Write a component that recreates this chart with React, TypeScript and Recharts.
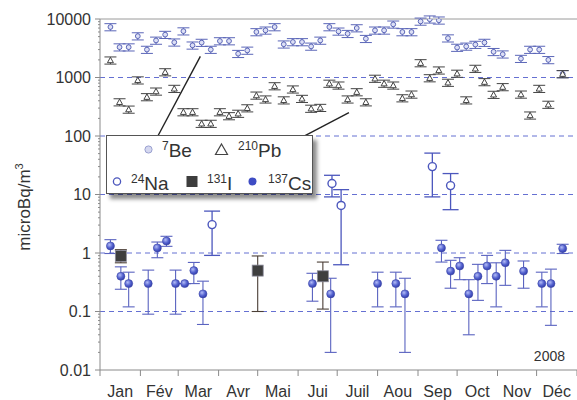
import { ScatterChart, Scatter, XAxis, YAxis, ErrorBar, ReferenceLine } from 'recharts'

// layout
const W = 577
const H = 400
const PLOT_LEFT = 100
const PX_PER_DAY = (W - PLOT_LEFT) / 366

// 2008 axis (leap year), day of year
const monthStarts = [0, 31, 60, 91, 121, 152, 182, 213, 244, 274, 305, 335, 366]
const monthNames = ['Jan', 'Fév', 'Mar', 'Avr', 'Mai', 'Jui', 'Juil', 'Aou', 'Sep', 'Oct', 'Nov', 'Déc']
const majorTicks = [0.01, 0.1, 1, 10, 100, 1000, 10000]
const gridValues = [0.1, 1, 10, 100, 1000]
const minorTicks = majorTicks
  .slice(0, -1)
  .flatMap((d) => [2, 3, 4, 5, 6, 7, 8, 9].map((m) => +(m * d).toPrecision(3)))

// weekly filters: 7Be and 210Pb
const weekDays = [
  8, 15, 22, 29, 36, 43, 50, 57, 64, 71, 78, 85, 92, 99, 106, 113, 120, 127, 134, 141, 148, 155, 162, 169, 176,
  183, 190, 197, 204, 211, 218, 225, 232, 239, 246, 253, 260, 267, 274, 281, 288, 295, 302, 309, 323, 330, 337,
  344, 355,
]
const be7 = [
  7300, 3300, 3300, 5100, 3000, 4300, 5400, 4000, 6200, 3550, 3950, 3000, 4200, 4200, 2550, 2900, 6000, 6400,
  7300, 3700, 4050, 4050, 3400, 4300, 7300, 6150, 5600, 7000, 4600, 6400, 6400, 8100, 6000, 6000, 9100, 9900,
  9500, 4700, 3250, 3400, 3650, 3950, 2750, 2500, 2100, 3000, 3000, 2000, 1150,
]
const pb210 = [
  1970, 380, 285, 900, 465, 580, 1240, 645, 257, 257, 163, 163, 257, 220, 242, 300, 495, 425, 715, 410, 630, 435,
  295, 305, 790, 735, 425, 565, 380, 960, 790, 735, 445, 515, 1770, 980, 1330, 820, 1170, 410, 1420, 840, 510, 690,
  515, 226, 645, 345, 1150,
]
const weeklyRelErr = 0.14

// 137Cs
const csDays = [8, 16, 22, 37, 44, 51, 58, 65, 72, 79, 163, 177, 213, 227, 234, 262, 269, 276, 283, 290, 297, 304, 311, 325, 339, 346, 355]
const csValues = [1.32, 0.4, 0.3, 0.3, 1.22, 1.6, 0.3, 0.3, 0.5, 0.2, 0.3, 0.2, 0.3, 0.3, 0.2, 1.22, 0.49, 0.6, 0.2, 0.4, 0.6, 0.4, 0.68, 0.49, 0.3, 0.3, 1.19]
const csLow = [0.98, 0.24, 0.12, 0.09, 0.83, 1.3, 0.09, 0.3, 0.3, 0.06, 0.15, 0.02, 0.12, 0.12, 0.02, 0.7, 0.25, 0.35, 0.04, 0.155, 0.3, 0.12, 0.28, 0.25, 0.12, 0.058, 0.98]
const csHigh = [1.69, 0.58, 0.47, 0.51, 1.54, 1.93, 0.51, 0.3, 0.69, 0.33, 0.45, 0.37, 0.47, 0.47, 0.37, 1.65, 0.75, 0.83, 0.35, 0.64, 0.91, 0.68, 1.11, 0.73, 0.47, 0.53, 1.41]

// 131I
const iDays = [16, 121, 171]
const iValues = [0.89, 0.5, 0.4]
const iLow = [0.68, 0.1, 0.11]
const iHigh = [1.14, 0.89, 0.7]

// 24Na
const naDays = [86, 178, 185, 255, 269]
const naValues = [3.06, 15.4, 6.5, 30, 14.2]
const naLow = [0.91, 9.1, 0.63, 9.1, 5.5]
const naHigh = [5.2, 21.3, 12.1, 51, 22.8]

const weekly = (vals: number[]) =>
  weekDays.map((x, i) => ({ x, y: vals[i], err: [vals[i] * weeklyRelErr, vals[i] * weeklyRelErr] }))
const withBounds = (days: number[], vals: number[], lo: number[], hi: number[]) =>
  days.map((x, i) => ({ x, y: vals[i], err: [vals[i] - lo[i], hi[i] - vals[i]] }))

const beData = weekly(be7)
const pbData = weekly(pb210)
const csData = withBounds(csDays, csValues, csLow, csHigh)
const iData = withBounds(iDays, iValues, iLow, iHigh)
const naData = withBounds(naDays, naValues, naLow, naHigh)

const FONT = '"Liberation Sans", Arial, sans-serif'
const TEXT = '#333'
const AXIS = '#8a8a8a'
const BLUE = '#4c57bd'

const XTick = ({ x, y, payload }: any) => {
  const i = monthStarts.indexOf(payload.value)
  const mid = i >= 0 && i < monthNames.length ? ((monthStarts[i + 1] - monthStarts[i]) / 2) * PX_PER_DAY : 0
  return (
    <g>
      <line x1={x} x2={x} y1={y} y2={y + 6} stroke={AXIS} />
      {i < monthNames.length && (
        <text x={x + mid} y={y + 27} textAnchor="middle" fontSize={16} fill={TEXT} fontFamily={FONT}>
          {monthNames[i]}
        </text>
      )}
    </g>
  )
}

const YTick = ({ x, y, payload }: any) => {
  const major = majorTicks.includes(payload.value)
  return (
    <g>
      <line x1={x - (major ? 5 : 2)} x2={x} y1={y} y2={y} stroke={AXIS} />
      {major && (
        <text x={x - 9} y={y} dy={5.5} textAnchor="end" fontSize={16} fill={TEXT} fontFamily={FONT}>
          {String(payload.value)}
        </text>
      )}
    </g>
  )
}

const BeDot = ({ cx, cy }: any) => <circle cx={cx} cy={cy} r={2.4} fill="#dcdff5" stroke="#5b66b8" strokeWidth={1} />
const PbDot = ({ cx, cy }: any) => (
  <path d={`M${cx},${cy - 3} L${cx + 3},${cy + 2.4} L${cx - 3},${cy + 2.4} Z`} fill="#fff" stroke="#444" strokeWidth={1} />
)
const CsDot = ({ cx, cy }: any) => <circle cx={cx} cy={cy} r={4} fill="url(#csGrad)" stroke="#3a45a8" strokeWidth={0.6} />
const IDot = ({ cx, cy }: any) => (
  <rect x={cx - 5.5} y={cy - 5.5} width={11} height={11} fill="#3f3f3f" stroke="#8a8a9a" strokeWidth={0.8} />
)
const NaDot = ({ cx, cy }: any) => <circle cx={cx} cy={cy} r={4} fill="#fff" stroke={BLUE} strokeWidth={1.4} />

function Legend() {
  return (
    <div
      style={{
        position: 'absolute',
        left: 106,
        top: 135,
        width: 207,
        height: 59,
        background: '#fff',
        border: '1px solid #555',
        boxShadow: '4px 5px 4px rgba(0,0,0,0.45)',
        boxSizing: 'border-box',
      }}
    >
      <svg width={205} height={57} style={{ display: 'block', fontFamily: FONT }}>
        <circle cx={41.5} cy={13.5} r={3.6} fill="#d5d8f0" stroke="#9aa0d0" />
        <text x={55} y={21} fill={TEXT}>
          <tspan fontSize={12} dy={-7}>7</tspan>
          <tspan fontSize={19} dy={7}>Be</tspan>
        </text>
        <path d="M114.5,8 L120.5,18.5 L108.5,18.5 Z" fill="#fff" stroke="#444" strokeWidth={1.2} />
        <text x={131} y={21} fill={TEXT}>
          <tspan fontSize={12} dy={-7}>210</tspan>
          <tspan fontSize={19} dy={7}>Pb</tspan>
        </text>

        <circle cx={10} cy={45.5} r={3.6} fill="#fff" stroke={BLUE} strokeWidth={1.3} />
        <text x={24} y={54} fill={TEXT}>
          <tspan fontSize={12} dy={-7}>24</tspan>
          <tspan fontSize={19} dy={7}>Na</tspan>
        </text>
        <rect x={79.5} y={40} width={11} height={11} fill="#3d3d3d" />
        <text x={100} y={54} fill={TEXT}>
          <tspan fontSize={12} dy={-7}>131</tspan>
          <tspan fontSize={19} dy={7}>I</tspan>
        </text>
        <circle cx={145.5} cy={45.5} r={4} fill="#3e4cc4" />
        <text x={161} y={54} fill={TEXT}>
          <tspan fontSize={12} dy={-7}>137</tspan>
          <tspan fontSize={19} dy={7}>Cs</tspan>
        </text>
      </svg>
    </div>
  )
}

export default function App() {
  return (
    <div style={{ position: 'relative', width: W, height: H, background: '#fff' }}>
      <style>{'body{margin:0}'}</style>
      <ScatterChart width={W} height={H} margin={{ top: 19, right: 0, bottom: 0, left: 0 }}>
        <defs>
          <radialGradient id="csGrad" cx="38%" cy="35%" r="70%">
            <stop offset="0%" stopColor="#b3bcf6" />
            <stop offset="55%" stopColor="#5462cf" />
            <stop offset="100%" stopColor="#2f3aa6" />
          </radialGradient>
        </defs>
        <XAxis
          type="number"
          dataKey="x"
          domain={[0, 366]}
          allowDataOverflow
          ticks={monthStarts}
          interval={0}
          tick={XTick}
          tickLine={false}
          tickSize={0}
          tickMargin={0}
          height={30}
          stroke={AXIS}
        />
        <YAxis
          type="number"
          dataKey="y"
          scale="log"
          domain={[0.01, 10000]}
          allowDataOverflow
          ticks={[...majorTicks, ...minorTicks]}
          interval={0}
          tick={YTick}
          tickLine={false}
          tickSize={0}
          tickMargin={0}
          width={100}
          stroke={AXIS}
        />
        {gridValues.map((v) => (
          <ReferenceLine key={v} y={v} stroke="#6570d2" strokeDasharray="5 4" />
        ))}
        <ReferenceLine y={10000} stroke="#9a9a9a" />
        <ReferenceLine
          segment={[{ x: 44, y: 96 }, { x: 77, y: 2300 }]}
          stroke="#222"
          strokeWidth={1.4}
          ifOverflow="visible"
        />
        <ReferenceLine
          segment={[{ x: 146, y: 75 }, { x: 191, y: 251 }]}
          stroke="#222"
          strokeWidth={1.4}
          ifOverflow="visible"
        />

        <Scatter data={beData} shape={BeDot} isAnimationActive={false}>
          <ErrorBar dataKey="err" direction="y" width={6} stroke="#5b66b8" strokeWidth={1} />
        </Scatter>
        <Scatter data={pbData} shape={PbDot} isAnimationActive={false}>
          <ErrorBar dataKey="err" direction="y" width={6} stroke="#444" strokeWidth={1} />
        </Scatter>
        <Scatter data={csData} shape={CsDot} isAnimationActive={false}>
          <ErrorBar dataKey="err" direction="y" width={6} stroke="#5a63c0" strokeWidth={1.1} />
        </Scatter>
        <Scatter data={iData} shape={IDot} isAnimationActive={false}>
          <ErrorBar dataKey="err" direction="y" width={6} stroke="#4a3e36" strokeWidth={1.1} />
        </Scatter>
        <Scatter data={naData} shape={NaDot} isAnimationActive={false}>
          <ErrorBar dataKey="err" direction="y" width={8} stroke={BLUE} strokeWidth={1.3} />
        </Scatter>
      </ScatterChart>
      <Legend />
      <div
        style={{
          position: 'absolute',
          right: 12,
          top: 348,
          fontFamily: FONT,
          fontSize: 14,
          color: TEXT,
        }}
      >
        2008
      </div>
      <div
        style={{
          position: 'absolute',
          left: 24,
          top: 207,
          transform: 'translate(-50%, -50%) rotate(-90deg)',
          whiteSpace: 'nowrap',
          fontFamily: FONT,
          fontSize: 17,
          color: TEXT,
        }}
      >
        microBq/m<sup style={{ fontSize: 11 }}>3</sup>
      </div>
    </div>
  )
}
